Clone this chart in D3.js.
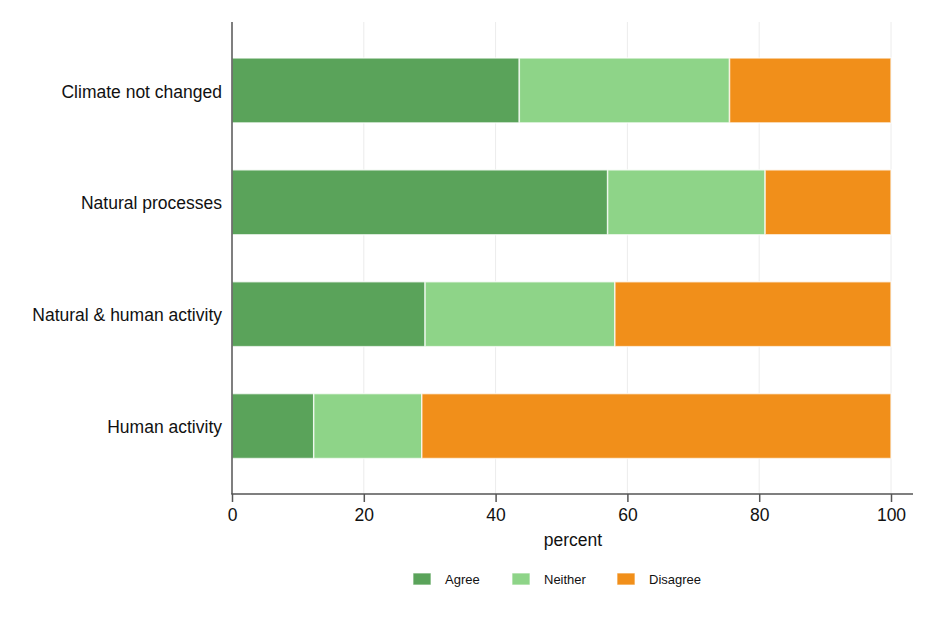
<!DOCTYPE html>
<html><head><meta charset="utf-8">
<script src="https://cdn.jsdelivr.net/npm/d3@7"></script>
<style>body{margin:0;background:#fff}svg{display:block}text{font-family:"Liberation Sans",Arial,sans-serif;fill:#111}</style>
</head><body><svg id="c" width="936" height="626"></svg>
<script>
const categories = ["Climate not changed","Natural processes","Natural & human activity","Human activity"];
const seriesNames = ["Agree","Neither","Disagree"];
const agree    = [43.6, 57.0, 29.3, 12.4];
const neither  = [31.9, 23.9, 28.8, 16.4];
const disagree = [24.5, 19.1, 41.9, 71.2];
const colors = ["#5aa35a","#8ed488","#f18f1a"];
const xTicks = [0,20,40,60,80,100];

const svg = d3.select("#c");
const x = d3.scaleLinear().domain([0,100]).range([232,891]);
const y = d3.scaleBand().domain(categories).range([34.5,482]).paddingInner(0.42).paddingOuter(0.21);
const color = d3.scaleOrdinal().domain(seriesNames).range(colors);

// gridlines
svg.append("g").selectAll("line").data(xTicks.slice(1)).join("line")
  .attr("x1",d=>x(d)).attr("x2",d=>x(d)).attr("y1",22).attr("y2",494)
  .attr("stroke","#ececec").attr("stroke-width",1);

const rows = categories.map((c,i)=>({cat:c, Agree:agree[i], Neither:neither[i], Disagree:disagree[i]}));
const stack = d3.stack().keys(seriesNames)(rows);
svg.append("g").selectAll("g").data(stack).join("g")
  .attr("fill",d=>color(d.key))
  .selectAll("rect").data(d=>d).join("rect")
  .attr("x",d=>x(d[0])).attr("width",d=>x(d[1])-x(d[0]))
  .attr("y",d=>y(d.data.cat)).attr("height",y.bandwidth())
  .attr("stroke","#fff").attr("stroke-opacity",0.7).attr("stroke-width",1.5);

// y axis
svg.append("line").attr("x1",232).attr("x2",232).attr("y1",22).attr("y2",494)
  .attr("stroke","#555").attr("stroke-width",1.5);
svg.append("g").selectAll("text").data(categories).join("text")
  .attr("x",222).attr("y",d=>y(d)+y.bandwidth()/2+1).attr("dy","0.35em")
  .attr("text-anchor","end").attr("font-size",17.5).text(d=>d);

// x axis
const xa = svg.append("g").attr("transform","translate(0,494)")
  .call(d3.axisBottom(x).tickValues(xTicks).tickSize(8).tickPadding(7).tickSizeOuter(0));
xa.select(".domain").remove();
xa.selectAll(".tick line").attr("stroke","#555").attr("stroke-width",1.5);
xa.selectAll(".tick text").attr("font-size",17.5).attr("fill","#111").attr("font-family","Liberation Sans, Arial, sans-serif");
svg.append("line").attr("x1",231.25).attr("x2",913).attr("y1",494).attr("y2",494)
  .attr("stroke","#555").attr("stroke-width",1.5);
svg.append("text").attr("x",573).attr("y",546).attr("text-anchor","middle").attr("font-size",17.5).text("percent");

// legend
const legX = [413,512,617];
const lg = svg.append("g").selectAll("g").data(seriesNames).join("g")
  .attr("transform",(d,i)=>`translate(${legX[i]},573)`);
lg.append("rect").attr("width",18).attr("height",12).attr("fill",d=>color(d))
  .attr("stroke","#fff").attr("stroke-opacity",0.7);
lg.append("text").attr("x",32).attr("y",6.5).attr("dy","0.35em").attr("font-size",13).text(d=>d);
</script></body></html>
